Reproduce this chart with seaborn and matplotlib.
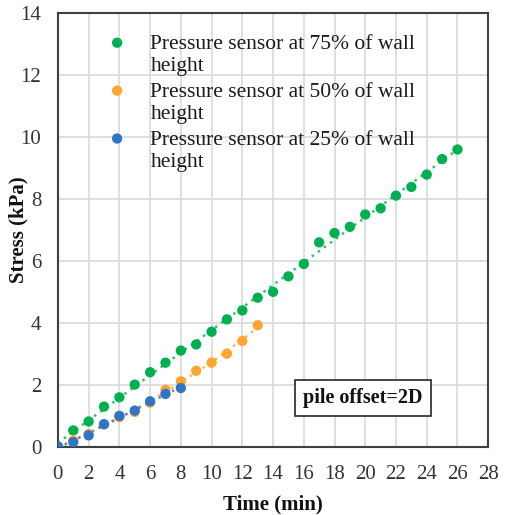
import numpy as np
import pandas as pd
import matplotlib
matplotlib.use("Agg")
import matplotlib.pyplot as plt
import seaborn as sns

t75 = list(range(0, 27))
s75 = [0, 0.52, 0.81, 1.29, 1.59, 2.0, 2.4, 2.71, 3.1, 3.3, 3.71, 4.11, 4.4, 4.81, 5.0,
       5.5, 5.9, 6.6, 6.9, 7.1, 7.5, 7.7, 8.11, 8.39, 8.79, 9.29, 9.6]
t50 = list(range(0, 14))
s50 = [0, 0.19, 0.4, 0.72, 0.95, 1.12, 1.42, 1.83, 2.11, 2.45, 2.71, 3.0, 3.41, 3.92]
t25 = list(range(0, 9))
s25 = [0, 0.14, 0.36, 0.72, 0.99, 1.16, 1.46, 1.7, 1.89]

labels = ["Pressure sensor at 75% of wall\nheight",
          "Pressure sensor at 50% of wall\nheight",
          "Pressure sensor at 25% of wall\nheight"]
colors = ["#00B050", "#FFA530", "#2F75C5"]
fit_orders = [1, 2, 1]

sns.set_theme(style="whitegrid")
plt.rcParams['font.family'] = ['Liberation Serif', 'DejaVu Serif']

fig, ax = plt.subplots(figsize=(5.08, 5.15), dpi=100)
fig.subplots_adjust(left=0.114, right=0.961, top=0.974, bottom=0.133)

series = [(t75, s75), (t50, s50), (t25, s25)]
for (t, s), lab, col, order in zip(series, labels, colors, fit_orders):
    df = pd.DataFrame({"Time": t, "Stress": s})
    coef = np.polyfit(df["Time"], df["Stress"], order)
    xs = np.linspace(min(t), max(t), 100)
    fit = pd.DataFrame({"Time": xs, "Stress": np.polyval(coef, xs)})
    sns.lineplot(data=fit, x="Time", y="Stress", ax=ax, color=col, lw=1.8,
                 linestyle=(0, (1, 2)), alpha=0.8, label="_nolegend_")
    sns.scatterplot(data=df, x="Time", y="Stress", ax=ax, color=col, s=55,
                    edgecolor="none", label=lab, zorder=3)

ax.set_xlim(0, 28)
ax.set_ylim(0, 14)
ax.set_xticks(range(0, 29, 2))
ax.set_yticks(range(0, 15, 2))
ax.grid(True, color="#D9D9D9", lw=1.2)
ax.tick_params(axis="both", labelsize=15, colors="#333333", length=0)
ax.tick_params(axis="x", pad=13)
ax.tick_params(axis="y", pad=12)
for sp in ax.spines.values():
    sp.set_color("#404040")
    sp.set_linewidth(1.5)
ax.set_xlabel("Time (min)", fontsize=15, fontweight="bold", labelpad=8,
              color="#111111")
ax.set_ylabel("Stress (kPa)", fontsize=15, fontweight="bold", labelpad=-6,
              color="#111111")

leg = ax.legend(loc="upper left", bbox_to_anchor=(0.06, 0.989), frameon=False,
                fontsize=15.5, handletextpad=0.8, labelspacing=0.33,
                borderaxespad=0.4, scatteryoffsets=[1.33], handlelength=1.5)
for txt in leg.get_texts():
    txt.set_color("#1a1a1a")

ax.text(19.85, 1.57, "pile offset=2D", fontsize=14.5, fontweight="bold",
        ha="center", va="center", color="#111111",
        bbox=dict(boxstyle="square,pad=0.4", fc="white", ec="#262626", lw=1.2))

fig.savefig("out.png", dpi=100)
